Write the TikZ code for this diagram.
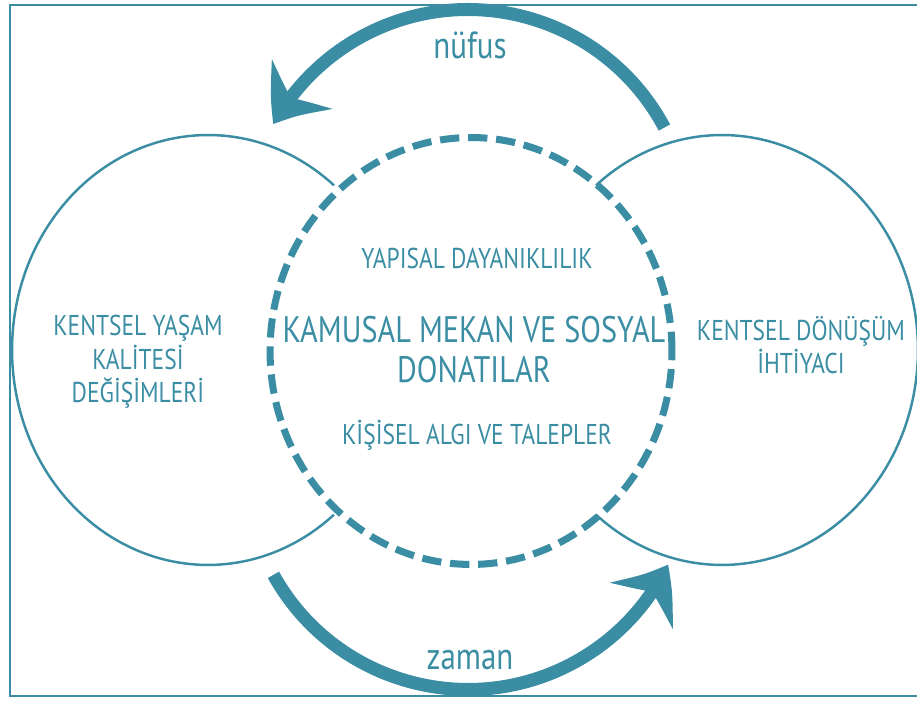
\documentclass[tikz,border=0pt]{standalone}
\usepackage{fontspec}
\setmainfont{PT Sans}
\newfontfamily\diagfont{PT Sans}[FakeStretch=0.82]
\usepackage{tikz}
\usetikzlibrary{arrows.meta, positioning, bending}
\definecolor{diagteal}{RGB}{58,141,163}

\begin{document}
\begin{tikzpicture}
  [x=0.02cm, y=0.02cm,
  frame/.style={draw=diagteal, line width=1.1pt},
  ring/.style={draw=diagteal, line width=1.4pt},
  core/.style={draw=diagteal, line width=4pt, dash pattern=on 11pt off 5pt},
  flow/.style={draw=diagteal, line width=7.4pt,
    -{Stealth[length=28pt, width=44pt, inset=10pt, bend]}},
  ringtext/.style={text=diagteal, align=center,
    font=\diagfont\fontsize{16.3}{19}\selectfont},
  coretext/.style={text=diagteal, align=center,
    font=\diagfont\fontsize{21}{22.7}\selectfont},
  flowtext/.style={text=diagteal, font=\diagfont\fontsize{21.5}{22}\selectfont}]

\clip (0,0) rectangle (917,702);

% Outer frame (its right side runs off the picture)
\draw[frame] (10,6) rectangle (1000,697);

% Centres of the three rings and of the two flows
\coordinate (lc) at (208,352);
\coordinate (rc) at (722,352);
\coordinate (cc) at (471,351);
\coordinate (tc) at (468,470);
\coordinate (bc) at (468,235);

% Side rings, cut where they meet the dashed ring
\draw[ring] ([shift={(50:3.92cm and 4.3cm)}]lc) arc[start angle=50, end angle=310, x radius=3.92cm, y radius=4.3cm];
\draw[ring] ([shift={(130:3.92cm and 4.3cm)}]rc) arc[start angle=130, end angle=-130, x radius=3.92cm, y radius=4.3cm];

% Dashed middle ring
\draw[core] (cc) ellipse [x radius=4.02cm, y radius=4.27cm];

% Texts
\node[ringtext] (lefttext) at (138,340) {KENTSEL YAŞAM\\KALİTESİ\\DEĞİŞİMLERİ};
\node[ringtext] (righttext) at (801,357) {KENTSEL DÖNÜŞÜM\\İHTİYACI};
\node[ringtext] (toptext) at (477,444) {YAPISAL DAYANIKLILIK};
\node[coretext] (coretitle) at (474,352) {KAMUSAL MEKAN VE SOSYAL\\DONATILAR};
\node[ringtext] (bottomtext) at (477,267) {KİŞİSEL ALGI VE TALEPLER};

% Flows over and under the rings
\draw[flow] ([shift={(28:4.45cm)}]tc) arc[start angle=28, end angle=151, radius=4.45cm];
\draw[flow] ([shift={(209:4.45cm)}]bc) arc[start angle=209, end angle=334, radius=4.45cm];
\node[flowtext] (nufus) at (470,657) {nüfus};
\node[flowtext] (zaman) at (470,42) {zaman};

\end{tikzpicture}
\end{document}
